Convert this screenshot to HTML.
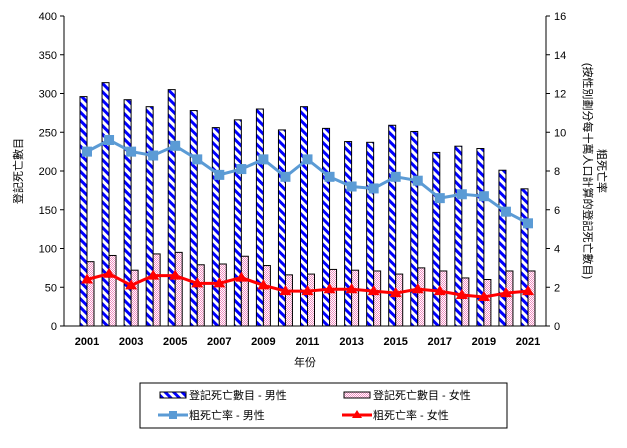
<!DOCTYPE html>
<html><head><meta charset="utf-8"><style>
body{margin:0;background:#fff;font-family:"Liberation Sans","Noto Sans CJK TC",sans-serif;}
svg text{font-family:"Liberation Sans","Noto Sans CJK TC",sans-serif;font-size:11px;fill:#000;}
.b{font-weight:bold;}
</style></head><body>
<svg id="c" width="627" height="443">
<defs>
<pattern id="diag" width="6" height="6" patternUnits="userSpaceOnUse" patternTransform="rotate(-45)">
<rect width="6" height="6" fill="#fff"/><rect width="3" height="6" fill="#0000ff"/></pattern>
<pattern id="chk" width="2" height="2" patternUnits="userSpaceOnUse">
<rect width="2" height="2" fill="#fff"/><rect width="1" height="1" fill="#f08cc0"/><rect x="1" y="1" width="1" height="1" fill="#f08cc0"/></pattern>
</defs>
<g id="g"></g>
</svg>
<script>
const years=[2001,2002,2003,2004,2005,2006,2007,2008,2009,2010,2011,2012,2013,2014,2015,2016,2017,2018,2019,2020,2021];
const maleDeaths=[296,314,292,283,305,278,256,266,280,253,283,255,238,237,259,251,224,232,229,201,177];
const femaleDeaths=[83,91,72,93,95,79,80,90,78,66,67,73,72,71,67,75,71,62,60,71,71];
const maleRate=[9.0,9.6,9.0,8.8,9.3,8.6,7.8,8.1,8.6,7.7,8.6,7.7,7.2,7.1,7.7,7.5,6.6,6.8,6.7,5.9,5.3];
const femaleRate=[2.4,2.7,2.1,2.6,2.6,2.2,2.2,2.5,2.1,1.8,1.8,1.9,1.9,1.8,1.7,1.9,1.8,1.6,1.5,1.7,1.8];
const leftTicks=[0,50,100,150,200,250,300,350,400];
const rightTicks=[0,2,4,6,8,10,12,14,16];
const X0=64,X1=546,Y0=326,Y1=16;
const g=document.getElementById('g');
const NS='http://www.w3.org/2000/svg';
function mk(t,a,txt){const e=document.createElementNS(NS,t);for(const k in a)e.setAttribute(k,a[k]);if(txt!==undefined)e.textContent=txt;g.appendChild(e);return e;}
const cx=i=>87+22.05*i;
const yl=v=>Y0-(v/400)*(Y0-Y1);
const yr=v=>Y0-(v/16)*(Y0-Y1);
let e=mk('line',{x1:X0,y1:Y1,x2:X0,y2:Y0,stroke:'#000'});

e=mk('line',{x1:X1,y1:Y1,x2:X1,y2:Y0,stroke:'#000'});

e=mk('line',{x1:X0,y1:Y0,x2:X1,y2:Y0,stroke:'#000'});

leftTicks.forEach(v=>{mk('line',{x1:X0-4,x2:X0,y1:yl(v),y2:yl(v),stroke:'#000'});
 e=mk('text',{x:X0-7,y:yl(v)+4,'text-anchor':'end'},v);
 });
rightTicks.forEach(v=>{mk('line',{x1:X1,x2:X1+4,y1:yr(v),y2:yr(v),stroke:'#000'});
 e=mk('text',{x:X1+8,y:yr(v)+4},v);
 });
years.forEach((y,i)=>{
 e=mk('rect',{x:cx(i)-7,y:yl(maleDeaths[i]),width:7,height:Y0-yl(maleDeaths[i]),fill:'url(#diag)',stroke:'#000','stroke-width':1});
 
 e=mk('rect',{x:cx(i),y:yl(femaleDeaths[i]),width:7,height:Y0-yl(femaleDeaths[i]),fill:'url(#chk)',stroke:'#000','stroke-width':1});
 
 if(i%2==0){e=mk('text',{x:cx(i),y:345,'text-anchor':'middle',class:'b'},y);
 }
});
e=mk('polyline',{points:maleRate.map((v,i)=>cx(i)+','+yr(v)).join(' '),fill:'none',stroke:'#5b9bd5','stroke-width':3});

maleRate.forEach((v,i)=>{e=mk('rect',{x:cx(i)-5,y:yr(v)-5,width:10,height:10,fill:'#5b9bd5'});
 });
e=mk('polyline',{points:femaleRate.map((v,i)=>cx(i)+','+yr(v)).join(' '),fill:'none',stroke:'#ff0000','stroke-width':3});

femaleRate.forEach((v,i)=>{const x=cx(i),y=yr(v);e=mk('polygon',{points:`${x},${y-6} ${x-6},${y+4} ${x+6},${y+4}`,fill:'#ff0000'});
 });
e=mk('text',{x:0,y:0,transform:'translate(22,171) rotate(-90)','text-anchor':'middle'},'登記死亡數目');

e=mk('text',{x:0,y:0,transform:'translate(598,171) rotate(90)','text-anchor':'middle'},'粗死亡率');

e=mk('text',{x:0,y:0,transform:'translate(584,171) rotate(90)','text-anchor':'middle'},'(按性別劃分每十萬人口計算的登記死亡數目)');

e=mk('text',{x:305,y:366,'text-anchor':'middle'},'年份');

e=mk('rect',{x:140,y:383,width:367,height:45,fill:'#fff',stroke:'#000'});

mk('rect',{x:160,y:392,width:26,height:6,fill:'url(#diag)',stroke:'#000'});
e=mk('text',{x:189,y:399},'登記死亡數目  -  男性');
mk('rect',{x:344,y:392,width:26,height:6,fill:'url(#chk)',stroke:'#000'});
e=mk('text',{x:373,y:399},'登記死亡數目  -  女性');
mk('line',{x1:158,x2:188,y1:415,y2:415,stroke:'#5b9bd5','stroke-width':3});
mk('rect',{x:169,y:411,width:8,height:8,fill:'#5b9bd5'});
e=mk('text',{x:189,y:419},'粗死亡率  -  男性');
mk('line',{x1:342,x2:372,y1:415,y2:415,stroke:'#ff0000','stroke-width':3});
mk('polygon',{points:'357,410 352,418 362,418',fill:'#ff0000'});
e=mk('text',{x:373,y:419},'粗死亡率  -  女性');
</script>
</body></html>
